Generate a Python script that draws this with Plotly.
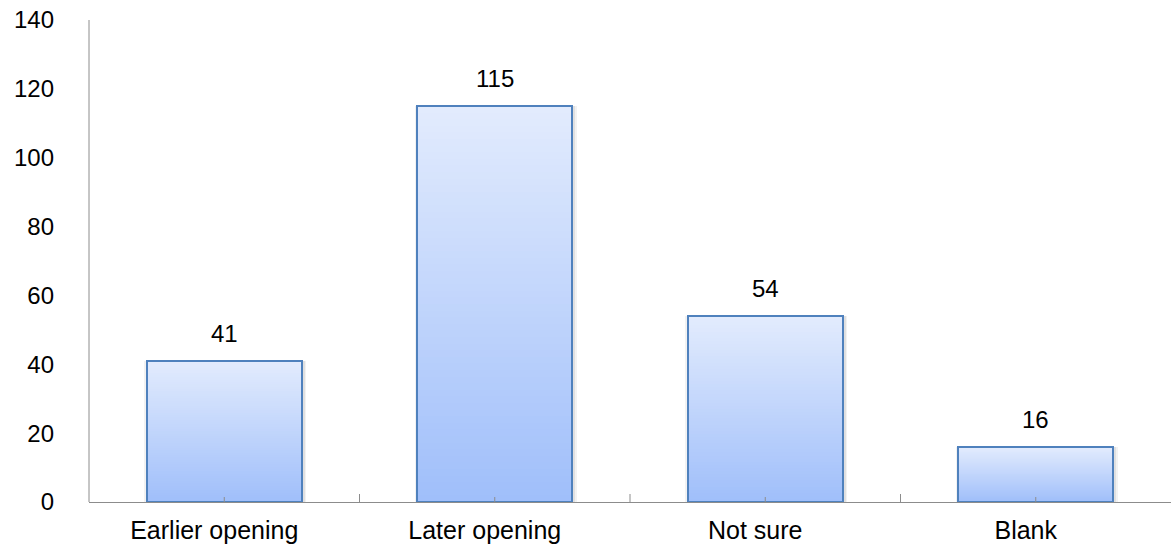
import plotly.graph_objects as go

# Survey responses
categories = ["Earlier opening", "Later opening", "Not sure", "Blank"]
counts = [41, 115, 54, 16]
y_ticks = [0, 20, 40, 60, 80, 100, 120, 140]

FONT = "Liberation Sans, Arial, sans-serif"
TOP_RGB = (226, 235, 253)
BOTTOM_RGB = (160, 191, 250)
EDGE = "#4F81BD"
AXIS = "#8C8C8C"
BAR_W = 0.573
STEPS = 60

x_pos = list(range(len(categories)))

fig = go.Figure()

# Soft shadow behind the bars
for grow, alpha in [(0.026, 0.05), (0.014, 0.07)]:
    fig.add_trace(go.Bar(
        x=x_pos, y=counts, width=BAR_W + grow, offset=-BAR_W / 2 - grow / 2 + 0.004,
        marker=dict(color=f"rgba(0,0,0,{alpha})", line=dict(width=0)),
        hoverinfo="skip", showlegend=False,
    ))

# Vertical gradient: overlaid bars, each shorter one painting a darker band lower down
for k in range(STEPS):
    frac = 1 - k / STEPS
    t = k / (STEPS - 1)
    r, g, b = (round(TOP_RGB[i] + (BOTTOM_RGB[i] - TOP_RGB[i]) * t) for i in range(3))
    fig.add_trace(go.Bar(
        x=x_pos, y=[c * frac for c in counts], width=BAR_W,
        marker=dict(color=f"rgb({r},{g},{b})", line=dict(width=0)),
        hoverinfo="skip", showlegend=False,
    ))

# Outline of each bar
fig.add_trace(go.Bar(
    x=x_pos, y=counts, width=BAR_W,
    marker=dict(color="rgba(0,0,0,0)", line=dict(color=EDGE, width=2)),
    showlegend=False,
))

# Value labels above the bars
for xi, c in zip(x_pos, counts):
    fig.add_annotation(x=xi, y=c, text=str(c), showarrow=False,
                       yanchor="bottom", yshift=12,
                       font=dict(family=FONT, size=24, color="#000000"))

# Tick marks crossing the category axis (boundaries long, centres short)
for b in [0.5, 1.5, 2.5]:
    fig.add_shape(type="line", xref="x", yref="y", x0=b, x1=b,
                  ysizemode="pixel", yanchor=0, y0=-8, y1=8,
                  line=dict(color=AXIS, width=1))
for xi in x_pos:
    fig.add_shape(type="line", xref="x", yref="y", x0=xi, x1=xi,
                  ysizemode="pixel", yanchor=0, y0=-6, y1=5,
                  line=dict(color=AXIS, width=1))
# Value axis line running a little below zero
fig.add_shape(type="line", xref="paper", yref="y", x0=0, x1=0,
              ysizemode="pixel", yanchor=0, y0=-15, y1=482,
              line=dict(color=AXIS, width=1))

fig.update_layout(
    barmode="overlay",
    bargap=0,
    width=1171, height=555,
    margin=dict(l=89, r=0, t=20, b=53),
    paper_bgcolor="white", plot_bgcolor="white",
    font=dict(family=FONT, size=24, color="#000000"),
    xaxis=dict(
        range=[-0.5, 3.5], tickmode="array", tickvals=x_pos, ticktext=categories,
        ticks="", showgrid=False, zeroline=False,
        showline=True, linecolor=AXIS, linewidth=1,
        ticklabelshift=-10, ticklabelstandoff=6,
        tickfont=dict(family=FONT, size=25),
    ),
    yaxis=dict(
        range=[0, 140], tickmode="array", tickvals=y_ticks,
        ticks="", showgrid=False, zeroline=False, showline=False,
        ticklabelstandoff=34,
        tickfont=dict(family=FONT, size=24),
    ),
)

fig.write_html("out.html")
